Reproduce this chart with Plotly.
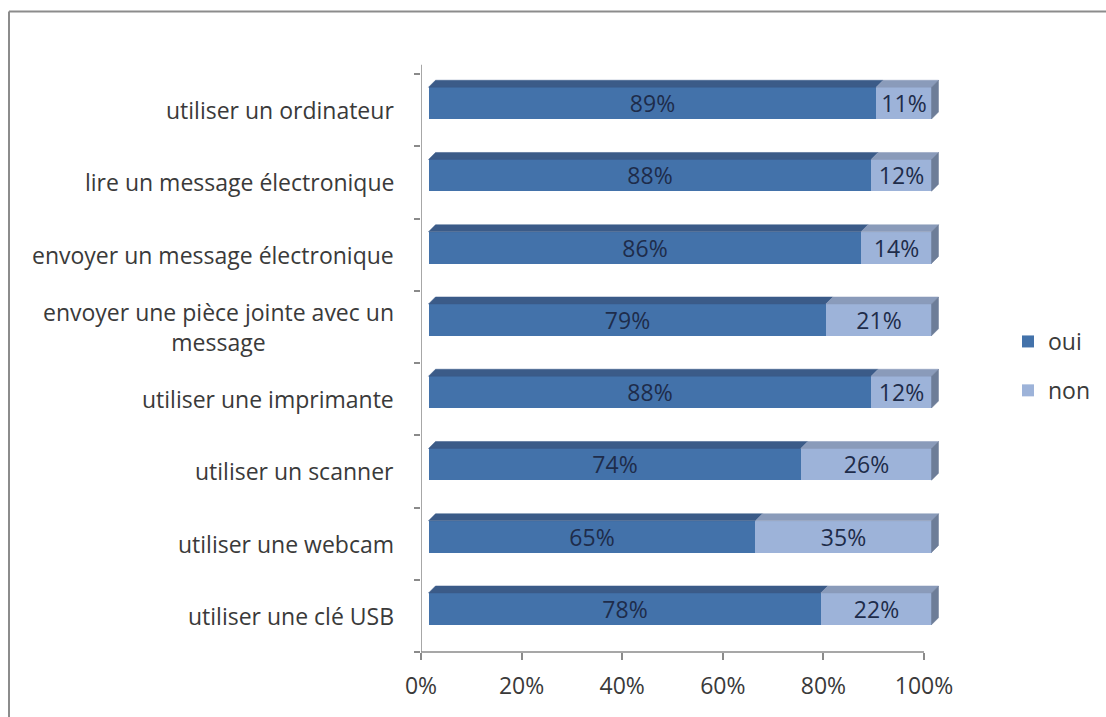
import plotly.graph_objects as go

# Survey results: share of respondents who can / cannot perform each task
categories = [
    "utiliser un ordinateur",
    "lire un message électronique",
    "envoyer un message électronique",
    "envoyer une pièce jointe avec un<br>message",
    "utiliser une imprimante",
    "utiliser un scanner",
    "utiliser une webcam",
    "utiliser une clé USB",
]
oui = [89, 88, 86, 79, 88, 74, 65, 78]
non = [11, 12, 14, 21, 12, 26, 35, 22]
x_ticks = [0, 20, 40, 60, 80, 100]
x_tick_labels = ["0%", "20%", "40%", "60%", "80%", "100%"]

FONT = "Open Sans"
FS = 23
TXT = "#3a3a3a"
AXIS = "#8a8a8a"

C_OUI, C_OUI_TOP = "#4372AA", "#3B5B88"
C_NON, C_NON_TOP, C_NON_SIDE = "#9DB3D9", "#8A9BBA", "#6D7D98"

# plot-area margins (px) and the pseudo-3D bar geometry (data units)
W, L, R, T, B = 0.44, 421, 160, 74, 65
PW, PH = 1106 - L - R, 717 - T - B
px_per_x = 5.03
px_per_y = PH / 8
XMIN = 0
XMAX = PW / px_per_x
DX = 7.5 / px_per_x      # shift of the front faces away from the axes
DY = 7.0 / px_per_y
DEPTH_X = 7.0 / px_per_x  # depth of the top/side faces
DEPTH_Y = 7.0 / px_per_y

pos = list(range(len(categories)))

fig = go.Figure()

label_font = dict(family=FONT, size=FS, color="#1E2C4A")
fig.add_trace(go.Bar(
    name="oui", y=pos, x=oui, orientation="h", width=W,
    marker=dict(color=C_OUI, line=dict(width=0)),
    texttemplate="%{x}%", textposition="inside", insidetextanchor="middle",
    textfont=label_font, constraintext="none",
    xaxis="x2", yaxis="y2", legendgroup="oui", hoverinfo="skip",
))
fig.add_trace(go.Bar(
    name="non", y=pos, x=non, base=oui, orientation="h", width=W,
    marker=dict(color=C_NON, line=dict(width=0)),
    texttemplate="%{x}%", textposition="inside", insidetextanchor="middle",
    textfont=label_font, constraintext="none",
    xaxis="x2", yaxis="y2", legendgroup="non", hoverinfo="skip",
))


def top_faces(starts, ends):
    xs, ys = [], []
    for p, a, b in zip(pos, starts, ends):
        t = p - W / 2
        xs += [a, b, b + DEPTH_X, a + DEPTH_X, a, None]
        ys += [t, t, t - DEPTH_Y, t - DEPTH_Y, t, None]
    return xs, ys


ends_all = [o + n for o, n in zip(oui, non)]

for starts, ends, col in (([0] * len(oui), oui, C_OUI_TOP),
                          (oui, ends_all, C_NON_TOP)):
    xs, ys = top_faces(starts, ends)
    fig.add_trace(go.Scatter(
        x=xs, y=ys, mode="lines", fill="toself", fillcolor=col,
        line=dict(width=0.5, color=col), showlegend=False,
        hoverinfo="skip", xaxis="x2", yaxis="y2",
    ))

# right-hand side faces
sx, sy = [], []
for p, e in zip(pos, ends_all):
    t, b = p - W / 2, p + W / 2
    sx += [e, e + DEPTH_X, e + DEPTH_X, e, e, None]
    sy += [t, t - DEPTH_Y, b - DEPTH_Y, b, t, None]
fig.add_trace(go.Scatter(
    x=sx, y=sy, mode="lines", fill="toself", fillcolor=C_NON_SIDE,
    line=dict(width=0.5, color=C_NON_SIDE), showlegend=False,
    hoverinfo="skip", xaxis="x2", yaxis="y2",
))

# category labels, centred multi-line text right-aligned against the axis
for p, c in zip(pos, categories):
    fig.add_annotation(
        x=0, xref="paper", y=p, yref="y", xanchor="right", yanchor="middle",
        xshift=-25, text=c, showarrow=False, align="center",
        font=dict(family=FONT, size=FS, color=TXT),
    )

n = len(categories)
frame_x = (9 - L) / PW
frame_top = 1 + (T - 11.5) / PH
fig.update_layout(
    width=1106, height=717,
    margin=dict(l=L, r=R, t=T, b=B, pad=0),
    paper_bgcolor="white", plot_bgcolor="white",
    barmode="stack", bargap=0,
    showlegend=True,
    legend=dict(
        xref="container", yref="container", x=1008 / 1106, y=1 - 320 / 717,
        xanchor="left", yanchor="top", traceorder="grouped",
        tracegroupgap=16, font=dict(family=FONT, size=FS, color=TXT),
        itemwidth=30, bgcolor="rgba(0,0,0,0)",
    ),
    xaxis=dict(
        range=[XMIN, XMAX], tickvals=x_ticks, ticktext=x_tick_labels,
        ticks="outside", ticklen=7, tickcolor=AXIS, tickwidth=1.5,
        showgrid=False, zeroline=False, showline=False,
        tickfont=dict(family=FONT, size=FS, color=TXT),
        ticklabelstandoff=6,
    ),
    yaxis=dict(
        range=[n - 0.5, -0.5], showticklabels=False, ticks="",
        showgrid=False, zeroline=False, showline=False,
        minor=dict(tickvals=[i - 0.5 for i in range(n + 1)], ticks="outside",
                   ticklen=6, tickcolor=AXIS, tickwidth=1.5, showgrid=False),
    ),
    xaxis2=dict(range=[XMIN - DX, XMAX - DX], overlaying="x", visible=False,
                showgrid=False, zeroline=False),
    yaxis2=dict(range=[n - 0.5 + DY, -0.5 + DY], overlaying="y", visible=False,
                showgrid=False, zeroline=False),
    shapes=[
        # axis lines
        dict(type="line", xref="x", yref="paper", x0=0, x1=0, y0=0, y1=1.016,
             line=dict(color=AXIS, width=1.5)),
        dict(type="line", xref="x", yref="paper", x0=0, x1=100, y0=0, y1=0,
             line=dict(color=AXIS, width=1.5)),
        # outer frame (top and left edges)
        dict(type="line", xref="paper", yref="paper",
             x0=frame_x, x1=(1110 - L) / PW, y0=frame_top, y1=frame_top,
             line=dict(color="#8C8C8C", width=2)),
        dict(type="line", xref="paper", yref="paper",
             x0=frame_x, x1=frame_x, y0=frame_top, y1=-(B + 5) / PH,
             line=dict(color="#8C8C8C", width=2)),
    ],
)

fig.write_html("out.html")
